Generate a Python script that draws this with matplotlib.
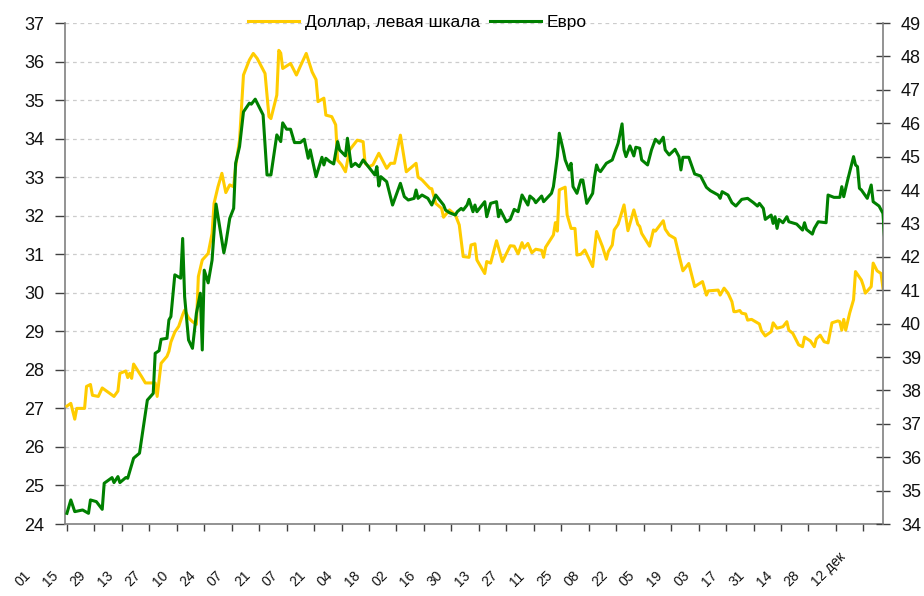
import datetime as dt
import matplotlib
matplotlib.use("Agg")
import matplotlib.pyplot as plt
from matplotlib.transforms import ScaledTranslation

plt.rcParams['font.family'] = ['Liberation Sans', 'DejaVu Sans']

START = dt.date(2008, 11, 1)

# Dollar (left scale): days since 01.11.2008, rate
usd_days = [0, 2, 4, 5, 9, 10, 12, 13, 16, 18, 24, 26, 27, 30, 31, 32, 33, 34, 38, 40,
            45, 46, 48, 51, 52, 53, 55, 57, 59, 60, 62, 64, 66, 67, 69, 72, 74, 75, 77, 79,
            81, 83, 85, 86, 88, 90, 93, 95, 97, 101, 103, 104, 107, 108, 109, 110, 114, 117, 119, 122,
            125, 127, 128, 131, 132, 135, 137, 138, 140, 142, 144, 148, 151, 152, 154, 156, 159, 163, 165, 167,
            170, 173, 178, 179, 181, 185, 186, 188, 191, 192, 195, 198, 200, 202, 205, 206, 208, 209, 213, 214,
            216, 219, 222, 226, 228, 230, 232, 233, 235, 237, 239, 242, 243, 244, 248, 249, 250, 251, 254, 255,
            257, 259, 260, 262, 264, 268, 270, 271, 273, 275, 276, 278, 279, 281, 284, 286, 289, 291, 292, 293,
            297, 299, 300, 304, 305, 307, 310, 312, 314, 317, 320, 324, 326, 327, 332, 333, 335, 337, 339, 340,
            341, 343, 344, 346, 347, 349, 353, 354, 356, 359, 360, 362, 365, 367, 368, 370, 373, 375, 376, 379,
            381, 382, 384, 386, 388, 390, 393, 394, 395, 396, 397, 399, 401, 402, 405, 406, 407, 410, 411, 413,
            415, 416]
usd = [27.06, 27.13, 26.72, 27.00, 27.00, 27.57, 27.62, 27.34, 27.31, 27.53, 27.31, 27.45, 27.91, 27.97, 27.80, 27.91, 27.78, 28.15, 27.83, 27.66,
       27.66, 27.31, 28.17, 28.35, 28.48, 28.72, 28.98, 29.13, 29.43, 29.55, 29.35, 29.25, 29.18, 30.42, 30.85, 31.02, 31.54, 32.32, 32.75, 33.10,
       32.60, 32.80, 32.75, 33.27, 33.96, 35.65, 36.04, 36.21, 36.08, 35.69, 34.57, 34.52, 35.13, 36.29, 36.22, 35.82, 35.95, 35.65, 35.88, 36.21,
       35.73, 35.53, 34.96, 35.05, 34.61, 34.57, 34.36, 33.44, 33.32, 33.14, 33.70, 33.96, 33.92, 33.36, 33.27, 33.32, 33.62, 33.23, 33.36, 33.36,
       34.09, 33.14, 33.36, 33.00, 32.93, 32.71, 32.70, 32.32, 32.19, 31.96, 32.15, 32.02, 31.76, 30.94, 30.92, 31.24, 31.27, 30.85, 30.50, 30.81,
       30.77, 31.35, 30.81, 31.22, 31.21, 31.01, 31.30, 31.16, 31.28, 31.04, 31.13, 31.10, 30.92, 31.18, 31.50, 31.82, 31.60, 32.67, 32.74, 32.02,
       31.67, 31.67, 30.98, 31.00, 31.11, 30.68, 31.59, 31.46, 31.20, 30.87, 31.07, 31.24, 31.63, 31.78, 32.28, 31.61, 32.15, 31.78, 31.72, 31.54,
       31.21, 31.63, 31.60, 31.87, 31.65, 31.50, 31.41, 30.98, 30.57, 30.76, 30.16, 30.29, 29.94, 30.05, 30.07, 29.94, 30.12, 29.99, 29.77, 29.51,
       29.51, 29.54, 29.47, 29.45, 29.29, 29.31, 29.19, 29.02, 28.88, 28.99, 29.22, 29.08, 29.12, 29.25, 29.03, 28.95, 28.65, 28.60, 28.85, 28.75,
       28.60, 28.80, 28.90, 28.73, 28.70, 29.22, 29.27, 29.25, 29.03, 29.31, 29.03, 29.47, 29.82, 30.55, 30.33, 30.18, 29.99, 30.16, 30.77, 30.57,
       30.50, 30.12]

# Euro (right scale)
eur_days = [0, 2, 4, 8, 11, 12, 15, 18, 19, 23, 24, 26, 27, 30, 31, 34, 37, 39, 41, 44,
            45, 47, 48, 51, 52, 53, 55, 58, 59, 60, 62, 64, 66, 68, 69, 70, 72, 74, 76, 80,
            81, 83, 85, 86, 88, 90, 93, 94, 96, 100, 102, 104, 107, 109, 110, 112, 114, 116, 119, 121,
            123, 124, 127, 130, 131, 132, 134, 136, 138, 139, 142, 143, 145, 147, 149, 151, 157, 158, 159, 160,
            163, 166, 170, 172, 174, 177, 178, 179, 181, 184, 186, 188, 192, 193, 195, 198, 199, 201, 202, 204,
            205, 207, 208, 209, 213, 214, 216, 219, 220, 221, 224, 226, 228, 230, 232, 235, 236, 238, 239, 242,
            243, 247, 248, 250, 251, 253, 254, 256, 257, 258, 260, 262, 263, 265, 268, 269, 270, 271, 272, 275,
            278, 281, 283, 284, 285, 287, 289, 290, 292, 293, 296, 298, 300, 302, 304, 305, 307, 310, 312, 313,
            314, 317, 320, 323, 326, 328, 332, 333, 334, 337, 339, 341, 344, 347, 350, 352, 353, 355, 356, 359,
            360, 361, 362, 363, 365, 367, 368, 372, 373, 375, 376, 377, 380, 381, 383, 387, 388, 391, 394, 395,
            396, 398, 401, 402, 403, 404, 405, 408, 410, 411, 414, 416, 417]
eur = [34.32, 34.72, 34.37, 34.42, 34.32, 34.72, 34.67, 34.44, 35.22, 35.39, 35.24, 35.42, 35.24, 35.39, 35.37, 35.97, 36.12, 36.91, 37.71, 37.91,
       39.11, 39.19, 39.53, 39.56, 40.11, 40.21, 41.46, 41.36, 42.55, 40.81, 39.51, 39.26, 40.31, 40.91, 39.21, 41.60, 41.22, 41.90, 43.58, 42.12,
       42.40, 43.15, 43.45, 44.80, 45.30, 46.34, 46.60, 46.57, 46.72, 46.25, 44.45, 44.45, 45.65, 45.45, 46.01, 45.82, 45.82, 45.42, 45.42, 45.52,
       44.95, 45.20, 44.40, 44.98, 44.75, 44.95, 44.85, 44.78, 45.45, 45.20, 45.02, 45.55, 44.70, 44.80, 44.70, 44.90, 44.45, 44.70, 44.12, 44.40,
       44.25, 43.55, 44.20, 43.80, 43.70, 43.75, 44.00, 43.75, 43.85, 43.75, 43.55, 43.85, 43.55, 43.40, 43.32, 43.25, 43.35, 43.45, 43.40, 43.55,
       43.72, 43.35, 43.55, 43.35, 43.65, 43.20, 43.60, 43.65, 43.20, 43.40, 43.05, 43.12, 43.42, 43.35, 43.85, 43.55, 43.82, 43.72, 43.62, 43.82,
       43.65, 43.90, 44.10, 45.00, 45.70, 45.20, 44.90, 44.60, 44.80, 44.10, 43.90, 44.30, 44.30, 43.60, 43.90, 44.40, 44.75, 44.60, 44.55, 44.80,
       44.90, 45.40, 45.98, 45.20, 45.00, 45.32, 45.02, 45.28, 45.25, 44.90, 44.75, 45.20, 45.52, 45.40, 45.58, 45.20, 45.05, 45.22, 45.00, 44.60,
       44.98, 44.98, 44.48, 44.42, 44.08, 43.98, 43.85, 43.75, 43.95, 43.85, 43.62, 43.52, 43.72, 43.75, 43.62, 43.52, 43.60, 43.45, 43.12, 43.25,
       43.00, 43.20, 42.85, 43.12, 43.02, 43.20, 43.05, 42.98, 42.92, 42.80, 43.02, 42.82, 42.68, 42.85, 43.05, 43.02, 43.85, 43.78, 43.78, 44.10,
       43.80, 44.30, 45.00, 44.75, 44.70, 44.05, 44.00, 43.75, 44.15, 43.65, 43.52, 43.30, 42.40]

tick_labels = ["01", "15", "29", "13", "27", "10", "24", "07", "21", "07",
               "21", "04", "18", "02", "16", "30", "13", "27", "11", "25",
               "08", "22", "05", "19", "03", "17", "31", "14", "28", "12 дек"]

left_ticks = list(range(24, 38))
right_ticks = list(range(34, 50))

USD_COLOR = "#FFCC00"
EUR_COLOR = "#008000"

usd_dates = [START + dt.timedelta(days=d) for d in usd_days]
eur_dates = [START + dt.timedelta(days=d) for d in eur_days]
tick_dates = [START + dt.timedelta(days=14 * i) for i in range(len(tick_labels))]

fig = plt.figure(figsize=(9.24, 5.96), dpi=100)
ax = fig.add_axes([0.0703, 0.1208, 0.8853, 0.8406])
ax2 = ax.twinx()

l1, = ax.plot(usd_dates, usd, color=USD_COLOR, lw=2.2, label="Доллар, левая шкала",
              zorder=3, solid_joinstyle='round')
l2, = ax2.plot(eur_dates, eur, color=EUR_COLOR, lw=2.2, label="Евро", zorder=4,
               solid_joinstyle='round')

ax.set_ylim(24, 37)
ax2.set_ylim(34, 49)
ax.set_xlim(START - dt.timedelta(days=1), START + dt.timedelta(days=416.6))

ax.set_yticks(left_ticks)
ax2.set_yticks(right_ticks)
ax.yaxis.grid(True, linestyle=(0, (3, 3)), color="#CCCCCC", lw=0.9)
ax.set_axisbelow(True)

for a in (ax, ax2):
    a.spines['top'].set_visible(False)
    for s in ('left', 'right', 'bottom'):
        a.spines[s].set_color("#808080")
        a.spines[s].set_linewidth(1.2)
ax.spines['right'].set_visible(False)
ax2.spines['left'].set_visible(False)
ax2.spines['bottom'].set_visible(False)

ax.tick_params(axis='y', direction='out', length=7, width=1, color="#404040",
               labelsize=13, pad=8, labelcolor="#111111")
ax2.tick_params(axis='y', direction='inout', length=10, width=1, color="#404040",
                labelsize=13, pad=8, labelcolor="#111111")

ax.set_xticks(tick_dates)
ax.set_xticklabels(tick_labels)
ax.tick_params(axis='x', direction='out', length=5, width=1, color="#404040",
               labelsize=10, pad=0, labelcolor="#111111")
off = ScaledTranslation(-54 / 100, -58 / 100, fig.dpi_scale_trans)
for lab in ax.get_xticklabels():
    lab.set_rotation(45)
    lab.set_ha('left')
    lab.set_va('bottom')
    lab.set_transform(lab.get_transform() + off)

fig.legend(handles=[l1, l2], loc='center', bbox_to_anchor=(0.452, 0.963),
           ncol=2, frameon=False, fontsize=12.5, handlelength=2.9,
           handletextpad=0.35, columnspacing=0.6, borderaxespad=0)

fig.savefig("out.png", dpi=100)
